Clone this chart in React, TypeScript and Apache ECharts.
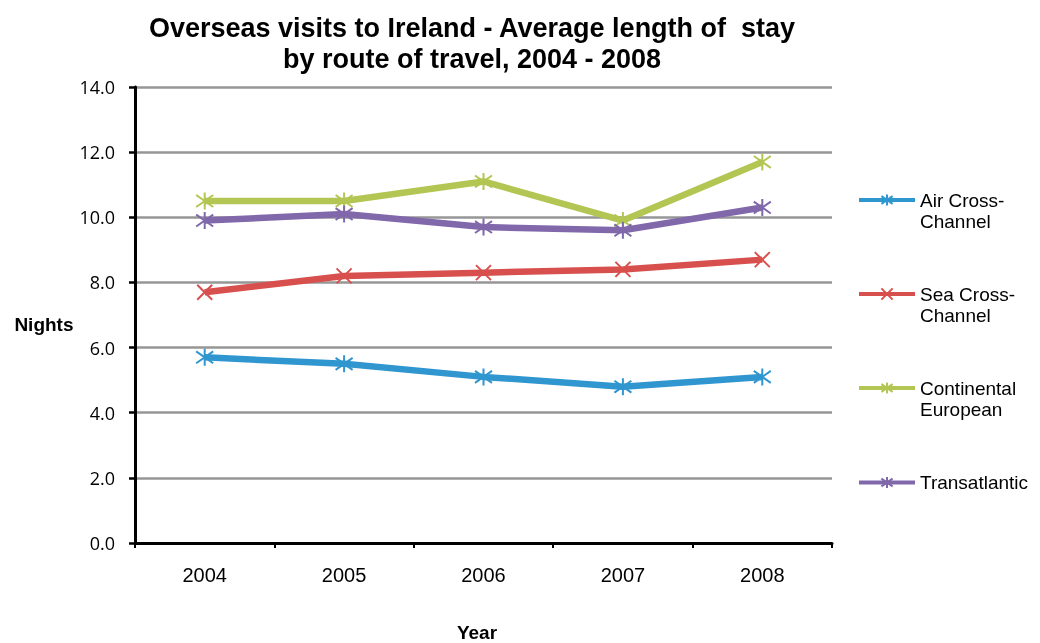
import React, { useEffect, useRef } from "react";
import * as echarts from "echarts";

const years = ["2004", "2005", "2006", "2007", "2008"];
const airCrossChannel = [5.7, 5.5, 5.1, 4.8, 5.1];
const seaCrossChannel = [7.7, 8.2, 8.3, 8.4, 8.7];
const continentalEuropean = [10.5, 10.5, 11.1, 9.9, 11.7];
const transatlantic = [9.9, 10.1, 9.7, 9.6, 10.3];

const seriesNames = ["Air Cross-Channel", "Sea Cross-Channel", "Continental European", "Transatlantic"];
const legendLabels = [" \nAir Cross-\nChannel", " \nSea Cross-\nChannel", " \nContinental\nEuropean", "Transatlantic"];
const colors = ["#2f96cf", "#d8504d", "#b3c552", "#8068ab"];

const STAR = "path://M5 0 L5 10 M0 1.5 L10 8.5 M10 1.5 L0 8.5";
const CROSS = "path://M0 0 L10 10 M10 0 L0 10";

export default function App() {
  const ref = useRef<HTMLDivElement>(null);
  useEffect(() => {
    if (!ref.current) return;
    const chart = echarts.init(ref.current, null, { renderer: "svg" });
    const font = "'Liberation Sans', Arial, sans-serif";
    const data = [airCrossChannel, seaCrossChannel, continentalEuropean, transatlantic];
    const symbols = [STAR, CROSS, STAR, STAR];
    const legendTops = [168.5, 262.5, 356.5, 472];
    chart.setOption({
      animation: false,
      title: {
        text: "Overseas visits to Ireland - Average length of  stay\nby route of travel, 2004 - 2008",
        left: 467,
        top: 7,
        textAlign: "center",
        textStyle: { fontFamily: font, fontWeight: "bold", fontSize: 27, lineHeight: 31, color: "#000" },
      },
      legend: seriesNames.map((n, i) => ({
        data: [n],
        orient: "vertical",
        left: 857,
        top: legendTops[i],
        padding: 0,
        itemWidth: 56,
        itemHeight: 14,
        itemGap: 0,
        lineStyle: { width: 4 },
        formatter: () => legendLabels[i],
        textStyle: {
          fontFamily: font,
          fontSize: 19,
          lineHeight: 21,
          color: "#000",
        },
      })),
      grid: { left: 135, top: 87, width: 697, height: 456, outerBoundsMode: "none", containLabel: false },
      xAxis: {
        type: "category",
        data: years,
        boundaryGap: true,
        name: "Year",
        nameLocation: "middle",
        nameGap: 80,
        nameTextStyle: { fontFamily: font, fontWeight: "bold", fontSize: 19, color: "#000", padding: [0, 13, 0, 0] },
        axisLine: { lineStyle: { color: "#000", width: 3 } },
        axisTick: { show: true, length: 5, lineStyle: { color: "#000", width: 2 } },
        axisLabel: { fontFamily: font, fontSize: 20, color: "#000", margin: 22 },
        splitLine: { show: false },
      },
      yAxis: {
        type: "value",
        min: 0,
        max: 14,
        interval: 2,
        name: "Nights",
        nameLocation: "middle",
        nameRotate: 0,
        nameGap: 59,
        nameTextStyle: { fontFamily: font, fontWeight: "bold", fontSize: 19, color: "#000", verticalAlign: "top" },
        axisLine: { show: true, lineStyle: { color: "#000", width: 3 } },
        axisTick: { show: true, length: 6, lineStyle: { color: "#000", width: 2.5 } },
        axisLabel: {
          fontFamily: "'Open Sans', sans-serif",
          fontSize: 18,
          color: "#000",
          margin: 20,
          formatter: (v: number) => v.toFixed(1),
        },
        splitLine: { show: true, lineStyle: { color: "#969696", width: 2.5 } },
      },
      series: seriesNames.map((n, i) => ({
        name: n,
        type: "line",
        data: data[i],
        symbol: symbols[i],
        symbolSize: i === 1 ? 15 : 17,
        color: colors[i],
        lineStyle: { color: colors[i], width: 6.5 },
        itemStyle: { color: "none", borderColor: colors[i], borderWidth: 2 },
        emphasis: { disabled: true },
        z: 2 + i,
      })),
    });
    return () => chart.dispose();
  }, []);
  return <div ref={ref} style={{ position: "fixed", left: 0, top: 0, width: 1040, height: 643 }} />;
}
